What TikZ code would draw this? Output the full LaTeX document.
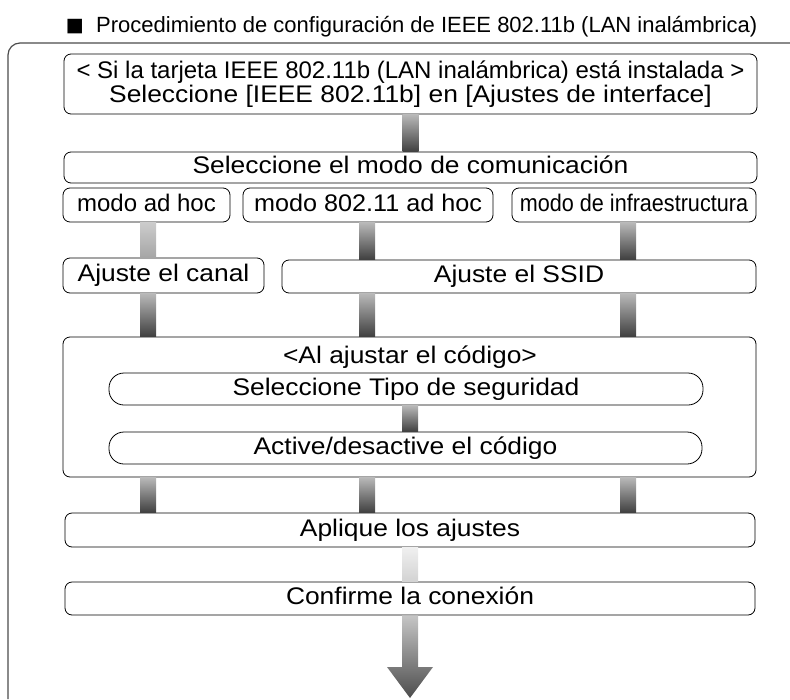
\documentclass[tikz,border=0pt]{standalone}
\usepackage{fontspec}
\setmainfont{Liberation Sans}
\newfontfamily\ancha{Liberation Sans}[FakeStretch=1.1]
\newfontfamily\media{Liberation Sans}[FakeStretch=1.05]
\newfontfamily\symfont{DejaVu Sans}
\begin{document}
\begin{tikzpicture}[x=1pt,y=-1pt,
  frame/.style={draw,rounded corners=7pt,line width=0.8pt,inner sep=0pt,font=\ancha\fontsize{24}{22}\selectfont},
  box/.style={frame,text height=17pt,text depth=5pt},
  pill/.style={box,rounded corners=15pt},
  bar/.style={top color=gray!55,bottom color=black!75},
  lightbar/.style={top color=gray!40,bottom color=gray!70},
  palebar/.style={top color=gray!12,bottom color=gray!35}]
\useasboundingbox (0,0) rectangle (790,699);
% marco y titulo
\draw[line width=1.2pt,black!70,rounded corners=12pt](8,699)--(8,43)--(790,43);
\node[anchor=base west,inner sep=0pt,font=\fontsize{22}{24}\selectfont] (titulo) at (96,32) {Procedimiento de configuración de IEEE 802.11b (LAN inalámbrica)};
\node[anchor=base east,inner sep=0pt,font=\symfont\fontsize{19}{20}\selectfont] (cuadro) at (84,31) {■};
% columnas
\coordinate (c1) at (148,0);
\coordinate (c2) at (367,0);
\coordinate (c3) at (628,0);
% cajas
\node[frame,minimum width=693pt,minimum height=60pt,align=center] (tarjeta) at (410.5,84)
  {{\rmfamily < Si la tarjeta IEEE 802.11b (LAN inalámbrica) está instalada >}\\Seleccione [IEEE 802.11b] en [Ajustes de interface]};
\node[box,minimum width=693pt,minimum height=31pt] (modo) at (410.5,167.5) {Seleccione el modo de comunicación};
\node[box,minimum width=167pt,minimum height=34pt] (adhoc) at (146.5,205) {\rmfamily modo ad hoc};
\node[box,minimum width=250pt,minimum height=34pt] (adhocb) at (368,205) {\media modo 802.11 ad hoc};
\node[box,minimum width=244pt,minimum height=34pt] (infra) at (634,205) {\rmfamily\scalebox{0.9}[1]{modo de infraestructura}};
\node[box,minimum width=201pt,minimum height=35pt] (canal) at (163.5,275.5) {Ajuste el canal};
\node[box,minimum width=474pt,minimum height=33pt] (ssid) at (519,276.5) {Ajuste el SSID};
\node[frame,minimum width=693pt,minimum height=140pt] (codigo) at (409.5,407) {};
\node[anchor=base,inner sep=0pt,font=\ancha\fontsize{24}{22}\selectfont] (alcodigo) at (410,363) {<Al ajustar el código>};
\node[pill,minimum width=594pt,minimum height=32pt] (tipo) at (406,389) {Seleccione Tipo de seguridad};
\node[pill,minimum width=593pt,minimum height=32pt] (activo) at (405.5,448) {Active/desactive el código};
\node[box,minimum width=690pt,minimum height=34pt] (aplique) at (410,530) {Aplique los ajustes};
\node[box,minimum width=690pt,minimum height=33pt] (confirme) at (410,598.5) {Confirme la conexión};
% conectores
\shade[bar] ([xshift=-8pt]tarjeta.south) rectangle ([xshift=8pt]modo.north);
\shade[lightbar] ([xshift=-8pt]c1 |- adhoc.south) rectangle ([xshift=8pt]c1 |- canal.north);
\shade[bar] ([xshift=-8pt]c2 |- adhocb.south) rectangle ([xshift=8pt]c2 |- ssid.north);
\shade[bar] ([xshift=-8pt]c3 |- infra.south) rectangle ([xshift=8pt]c3 |- ssid.north);
\foreach \c/\n in {c1/canal,c2/ssid,c3/ssid}
  \shade[bar] ([xshift=-8pt]\c |- \n.south) rectangle ([xshift=8pt]\c |- codigo.north);
\shade[bar] ([xshift=-8pt]tipo.south -| alcodigo) rectangle ([xshift=8pt]activo.north -| alcodigo);
\foreach \c in {c1,c2,c3}
  \shade[bar] ([xshift=-8pt]\c |- codigo.south) rectangle ([xshift=8pt]\c |- aplique.north);
\shade[palebar] ([xshift=-8pt]aplique.south) rectangle ([xshift=8pt]confirme.north);
\coordinate (punta) at (410,698);
\coordinate (cabeza) at (410,667);
\shade[top color=gray!45,bottom color=black!70] ([xshift=-8pt]confirme.south) -- ([xshift=-8pt]cabeza) -- ([xshift=-23pt]cabeza)
  -- (punta) -- ([xshift=23pt]cabeza) -- ([xshift=8pt]cabeza) -- ([xshift=8pt]confirme.south) -- cycle;
\end{tikzpicture}
\end{document}
